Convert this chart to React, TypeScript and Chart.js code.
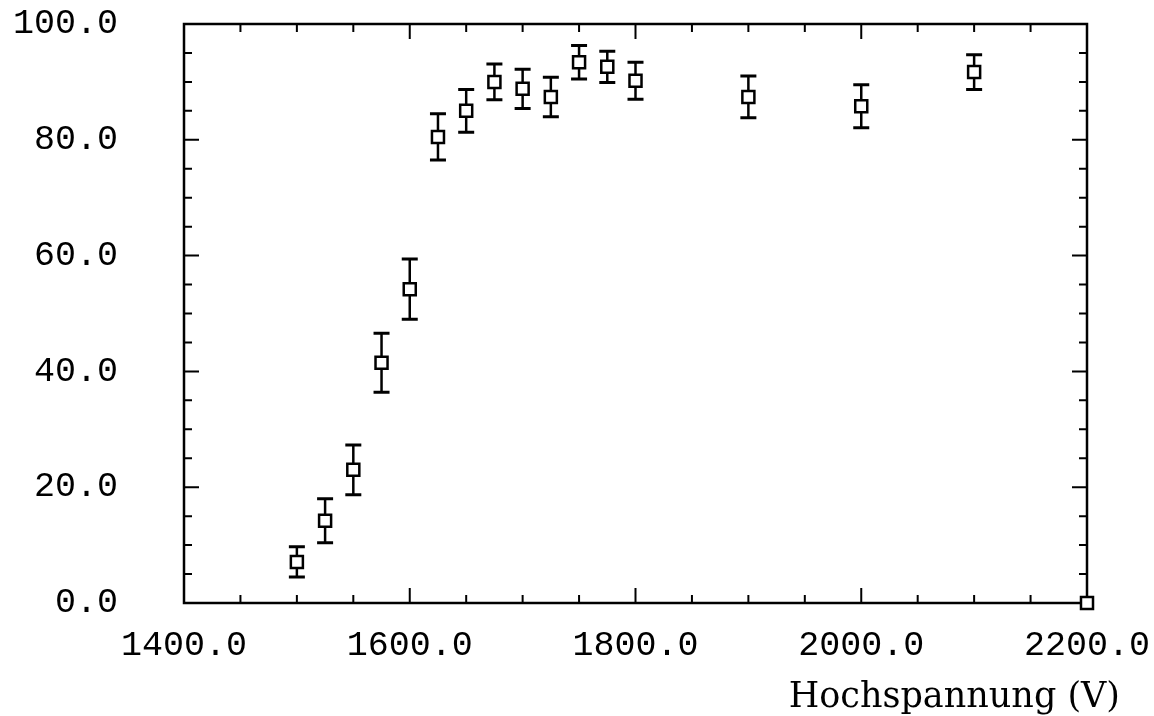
import React, { useEffect, useRef } from "react";
import { Chart, registerables } from "chart.js";

Chart.register(...registerables);

// High voltage (V) and measured efficiency (%) with symmetric errors
const voltages = [1500, 1525, 1550, 1575, 1600, 1625, 1650, 1675, 1700, 1725, 1750, 1775, 1800, 1900, 2000, 2100, 2200];
const efficiency = [7.1, 14.2, 23.0, 41.5, 54.2, 80.5, 85.0, 90.0, 88.8, 87.4, 93.4, 92.6, 90.2, 87.4, 85.8, 91.7, 0];
const errors = [2.6, 3.8, 4.3, 5.1, 5.2, 4.0, 3.7, 3.1, 3.4, 3.4, 2.9, 2.7, 3.2, 3.6, 3.7, 3.0, 0];

const xTickValues = [1400, 1600, 1800, 2000, 2200];
const yTickValues = [0, 20, 40, 60, 80, 100];
const xMinorStep = 50;
const yMinorStep = 5;
const xAxisTitle = "Hochspannung (V)";

const tickFont = { family: "'Liberation Mono', 'DejaVu Sans Mono', monospace", size: 35 };
const titleFont = "35px 'DejaVu Serif', 'Liberation Serif', serif";

const MAJOR_LEN = 15;
const MINOR_LEN = 8;

// Frame, inward tick marks on all four sides and error bars
const framePlugin = {
  id: "frameTicksErrors",
  beforeDatasetsDraw(chart: any) {
    const { ctx, chartArea: a, scales } = chart;
    const xs = scales.x;
    const ys = scales.y;
    ctx.save();
    ctx.strokeStyle = "#000";
    ctx.lineCap = "butt";

    // tick marks
    ctx.lineWidth = 2;
    ctx.beginPath();
    for (let v = xs.min; v <= xs.max + 1e-6; v += xMinorStep) {
      const px = xs.getPixelForValue(v);
      const len = xTickValues.includes(v) ? MAJOR_LEN : MINOR_LEN;
      ctx.moveTo(px, a.bottom);
      ctx.lineTo(px, a.bottom - len);
      ctx.moveTo(px, a.top);
      ctx.lineTo(px, a.top + len);
    }
    for (let v = ys.min; v <= ys.max + 1e-6; v += yMinorStep) {
      const py = ys.getPixelForValue(v);
      const len = yTickValues.includes(v) ? MAJOR_LEN : MINOR_LEN;
      ctx.moveTo(a.left, py);
      ctx.lineTo(a.left + len, py);
      ctx.moveTo(a.right, py);
      ctx.lineTo(a.right - len, py);
    }
    ctx.stroke();

    // frame
    ctx.lineWidth = 2.5;
    ctx.strokeRect(a.left, a.top, a.right - a.left, a.bottom - a.top);

    // error bars
    for (let i = 0; i < voltages.length; i++) {
      if (!errors[i]) continue;
      const px = xs.getPixelForValue(voltages[i]);
      const top = ys.getPixelForValue(efficiency[i] + errors[i]);
      const bot = ys.getPixelForValue(efficiency[i] - errors[i]);
      ctx.lineWidth = 2.5;
      ctx.beginPath();
      ctx.moveTo(px, top);
      ctx.lineTo(px, bot);
      ctx.stroke();
      ctx.lineWidth = 3;
      ctx.beginPath();
      ctx.moveTo(px - 8, top);
      ctx.lineTo(px + 8, top);
      ctx.moveTo(px - 8, bot);
      ctx.lineTo(px + 8, bot);
      ctx.stroke();
    }
    ctx.restore();
  },
  afterDraw(chart: any) {
    const { ctx, chartArea: a } = chart;
    ctx.save();
    ctx.fillStyle = "#000";
    ctx.font = titleFont;
    ctx.textAlign = "right";
    ctx.textBaseline = "alphabetic";
    ctx.fillText(xAxisTitle, a.right + 33, a.bottom + 104);
    ctx.restore();
  },
};

export default function App() {
  const canvasRef = useRef<HTMLCanvasElement | null>(null);

  useEffect(() => {
    if (!canvasRef.current) return;
    const chart = new Chart(canvasRef.current, {
      type: "scatter",
      data: {
        datasets: [
          {
            data: voltages.map((v, i) => ({ x: v, y: efficiency[i] })),
            pointStyle: "rect",
            pointRadius: 8.5,
            pointHoverRadius: 8.5,
            borderColor: "#000",
            backgroundColor: "#fff",
            borderWidth: 2.5,
            showLine: false,
            clip: false,
          } as any,
        ],
      },
      options: {
        animation: false,
        responsive: true,
        maintainAspectRatio: false,
        layout: { padding: { left: 0, top: 24, right: 67, bottom: 0 } },
        plugins: {
          legend: { display: false },
          tooltip: { enabled: false },
        },
        events: [],
        scales: {
          x: {
            type: "linear",
            min: 1400,
            max: 2200,
            afterBuildTicks: (s: any) => {
              s.ticks = xTickValues.map((v) => ({ value: v }));
            },
            afterFit: (s: any) => {
              s.height = 113;
              s.paddingLeft = 0;
              s.paddingRight = 0;
            },
            ticks: {
              callback: (v: any) => Number(v).toFixed(1),
              color: "#000",
              font: tickFont,
              padding: 22,
              maxRotation: 0,
              autoSkip: false,
            },
            grid: { display: false, drawTicks: false },
            border: { display: false },
          },
          y: {
            type: "linear",
            min: 0,
            max: 100,
            afterBuildTicks: (s: any) => {
              s.ticks = yTickValues.map((v) => ({ value: v }));
            },
            afterFit: (s: any) => {
              s.width = 184;
              s.paddingTop = 0;
              s.paddingBottom = 0;
            },
            ticks: {
              callback: (v: any) => Number(v).toFixed(1),
              color: "#000",
              font: tickFont,
              padding: 66,
              autoSkip: false,
            },
            grid: { display: false, drawTicks: false },
            border: { display: false },
          },
        },
      },
      plugins: [framePlugin],
    });
    return () => chart.destroy();
  }, []);

  return (
    <div style={{ position: "fixed", left: 0, top: 0, width: 1154, height: 716, background: "#fff" }}>
      <canvas ref={canvasRef} />
    </div>
  );
}
